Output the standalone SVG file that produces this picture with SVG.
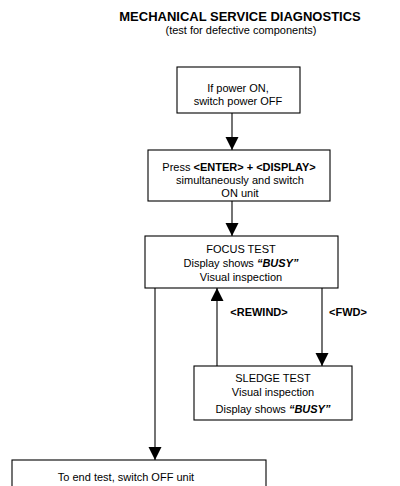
<svg xmlns="http://www.w3.org/2000/svg" width="400" height="486" viewBox="0 0 400 486">
<style>
text{font-family:"Liberation Sans",Arial,sans-serif;font-size:11px;fill:#000;text-anchor:middle}
.t{font-size:13px;font-weight:bold}
.b{font-weight:bold}
.bi{font-weight:bold;font-style:italic}
rect{fill:#fff;stroke:#000;stroke-width:1.1}
line{stroke:#000;stroke-width:1.1}
</style>
<defs>
<marker id="ah" markerWidth="14" markerHeight="14" refX="13" refY="6.5" orient="auto" markerUnits="userSpaceOnUse">
<path d="M0,0 L13,6.5 L0,13 Z" fill="#000"/>
</marker>
</defs>
<rect x="0" y="0" width="400" height="486" style="stroke:none"/>
<g id="title">
<text class="t" x="240" y="21">MECHANICAL SERVICE DIAGNOSTICS</text>
<text x="241" y="34">(test for defective components)</text>
</g>
<g id="connectors">
<line x1="232" y1="113" x2="232" y2="150" marker-end="url(#ah)"/>
<line x1="232" y1="201" x2="232" y2="236" marker-end="url(#ah)"/>
<line x1="155" y1="288" x2="155" y2="460" marker-end="url(#ah)"/>
<line x1="217" y1="366" x2="217" y2="288" marker-end="url(#ah)"/>
<line x1="322" y1="288" x2="322" y2="366" marker-end="url(#ah)"/>
<text class="b" x="259" y="316">&lt;REWIND&gt;</text>
<text class="b" x="348" y="316">&lt;FWD&gt;</text>
</g>
<g id="n1">
<rect x="177" y="67" width="123" height="46"/>
<text x="238" y="92">If power ON,</text>
<text x="238" y="105">switch power OFF</text>
</g>
<g id="n2">
<rect x="148" y="150" width="182" height="51"/>
<text x="239" y="171">Press <tspan class="b">&lt;ENTER&gt; + &lt;DISPLAY&gt;</tspan></text>
<text x="240" y="184">simultaneously and switch</text>
<text x="240" y="197">ON unit</text>
</g>
<g id="n3">
<rect x="145" y="236" width="193" height="52"/>
<text x="241" y="253">FOCUS TEST</text>
<text x="241" y="267">Display shows <tspan class="bi">“BUSY”</tspan></text>
<text x="241" y="281">Visual inspection</text>
</g>
<g id="n4">
<rect x="194" y="366" width="158" height="54"/>
<text x="273" y="382">SLEDGE TEST</text>
<text x="273" y="396">Visual inspection</text>
<text x="273" y="413">Display shows <tspan class="bi">“BUSY”</tspan></text>
</g>
<g id="n5">
<rect x="12" y="460" width="254" height="40"/>
<text x="126" y="481">To end test, switch OFF unit</text>
</g>
</svg>
